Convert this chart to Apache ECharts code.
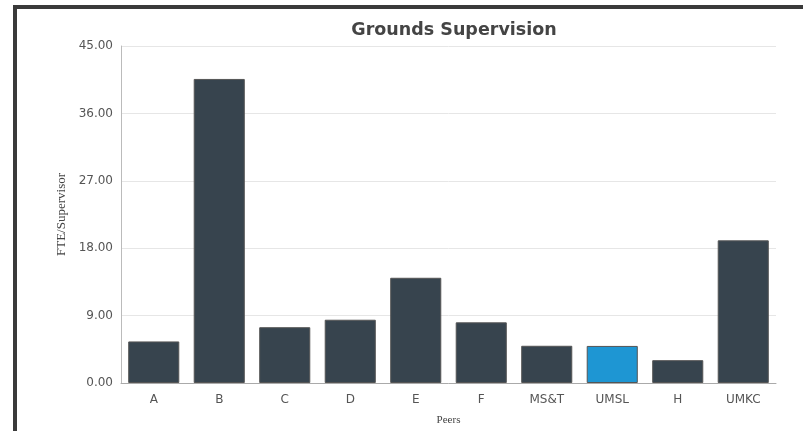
<!DOCTYPE html>
<html>
<head>
<meta charset="utf-8">
<script src="https://cdn.jsdelivr.net/npm/echarts@6/dist/echarts.min.js"></script>
<style>
html,body{margin:0;padding:0;background:#fff;overflow:hidden;}
#frame{position:absolute;left:13px;top:5px;width:790px;height:426px;border-left:4px solid #3a3a3a;border-top:4px solid #3a3a3a;box-sizing:border-box;}
#chart{position:absolute;left:0;top:0;width:803px;height:431px;}
</style>
</head>
<body>
<div id="frame"></div>
<div id="chart"></div>
<script>
const categories = ['A','B','C','D','E','F','MS&T','UMSL','H','UMKC'];
const values = [5.55, 40.6, 7.45, 8.45, 14.05, 8.1, 4.97, 4.95, 3.05, 19.05];
const highlight = 'UMSL';
const yTicks = { min: 0, max: 45, interval: 9 };
const titleText = 'Grounds Supervision';
const yName = 'FTE/Supervisor';
const xName = 'Peers';

const chart = echarts.init(document.getElementById('chart'), null, {renderer:'canvas', width: 803, height: 431});
chart.setOption({
  backgroundColor: 'transparent',
  animation: false,
  title: {
    text: titleText,
    left: 449, textAlign: 'center', top: 16,
    textStyle: { fontFamily: 'DejaVu Sans', fontSize: 17.5, fontWeight: 'bold', color: '#444' }
  },
  grid: { left: 121, top: 46, width: 655, height: 341, containLabel: false },
  xAxis: {
    type: 'category',
    data: categories,
    name: xName, nameLocation: 'middle', nameGap: 32,
    nameTextStyle: { fontFamily: 'Liberation Serif', fontSize: 11, color: '#444' },
    axisLine: { lineStyle: { color: '#aaa', width: 1 } },
    axisTick: { show: false },
    axisLabel: { fontFamily: 'DejaVu Sans', fontSize: 12, color: '#555', margin: 11, interval: 0 }
  },
  yAxis: {
    type: 'value',
    min: yTicks.min, max: yTicks.max, interval: yTicks.interval,
    name: yName, nameLocation: 'middle', nameGap: 49,
    nameTextStyle: { fontFamily: 'Liberation Serif', fontSize: 13, color: '#444' },
    axisLine: { show: true, lineStyle: { color: '#bbb', width: 1 } },
    axisTick: { show: false },
    splitLine: { lineStyle: { color: '#e6e6e6', width: 1 } },
    axisLabel: { fontFamily: 'DejaVu Sans', fontSize: 12, color: '#555', margin: 8,
      formatter: v => v.toFixed(2) }
  },
  series: [{
    type: 'bar',
    data: values.map((v, i) => ({
      value: v,
      itemStyle: { color: categories[i] === highlight ? '#1e96d3' : '#37444e' }
    })),
    barCategoryGap: '22%',
    itemStyle: { borderColor: '#555', borderWidth: 1 }
  }]
});
</script>
</body>
</html>
